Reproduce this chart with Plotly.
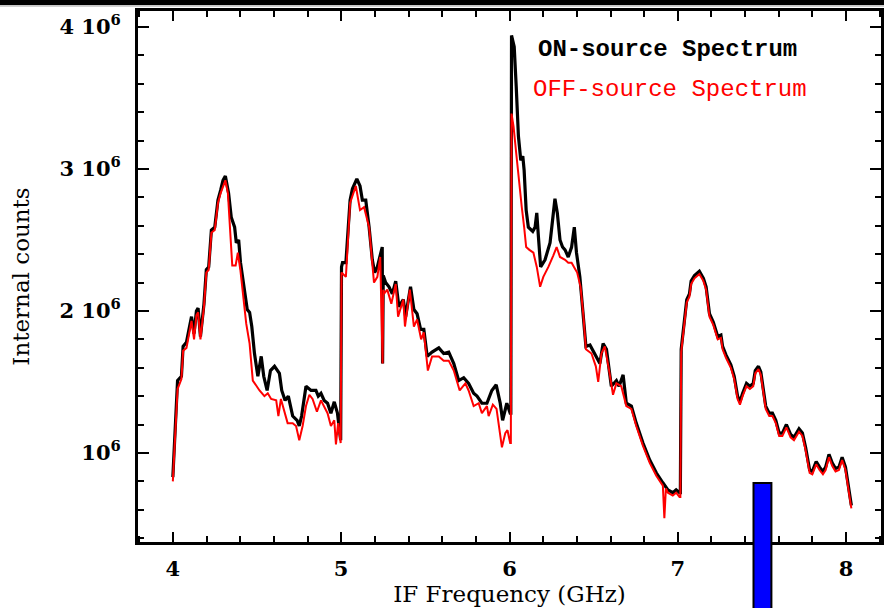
import numpy as np
import plotly.graph_objects as go

# IF spectra, frequency in GHz, counts in units of 10^6
on_freq = [
    4.000, 4.028, 4.051, 4.061, 4.081, 4.111, 4.126, 4.140, 4.150, 4.164, 4.185, 4.199, 4.213, 4.229,
    4.249, 4.268, 4.284, 4.298, 4.312, 4.331, 4.347, 4.367, 4.377, 4.391, 4.402, 4.426, 4.442, 4.456,
    4.469, 4.485, 4.505, 4.525, 4.540, 4.560, 4.580, 4.604, 4.633, 4.647, 4.667, 4.686, 4.712, 4.738,
    4.751, 4.765, 4.791, 4.821, 4.850, 4.864, 4.880, 4.899, 4.919, 4.939, 4.959, 4.978, 4.997,
    5.002, 5.008, 5.028, 5.037, 5.053, 5.067, 5.093, 5.112, 5.126, 5.146, 5.166, 5.185, 5.199, 5.215,
    5.244, 5.246, 5.250, 5.264, 5.284, 5.304, 5.324, 5.343, 5.369, 5.383, 5.412, 5.432, 5.451, 5.472,
    5.491, 5.511, 5.540, 5.580, 5.609, 5.639, 5.669, 5.698, 5.728, 5.757, 5.787, 5.807, 5.836, 5.866,
    5.895, 5.921, 5.945, 5.959, 5.984, 6.004, 6.008,
    6.012, 6.028, 6.040, 6.053, 6.067, 6.079, 6.087, 6.099, 6.112, 6.138, 6.152, 6.162, 6.172, 6.185,
    6.211, 6.241, 6.256, 6.270, 6.284, 6.300, 6.315, 6.330, 6.349, 6.369, 6.385, 6.398, 6.418, 6.438,
    6.454, 6.478, 6.507, 6.537, 6.556, 6.576, 6.605, 6.635, 6.651, 6.675, 6.694, 6.724, 6.753, 6.793,
    6.833, 6.872, 6.911, 6.941, 6.970, 6.990, 7.010, 7.015,
    7.020, 7.040, 7.053, 7.069, 7.079, 7.099, 7.128, 7.152, 7.168, 7.188, 7.211, 7.237, 7.256, 7.266,
    7.286, 7.315, 7.335, 7.355, 7.369, 7.385, 7.408, 7.428, 7.448, 7.460, 7.479, 7.493, 7.507, 7.522,
    7.543, 7.562, 7.582, 7.602, 7.621, 7.645, 7.670, 7.690, 7.720, 7.740, 7.759, 7.783, 7.799, 7.822,
    7.842, 7.862, 7.878, 7.898, 7.917, 7.937, 7.957, 7.976, 7.996, 8.016, 8.031,
]
on_counts = [
    0.83, 1.51, 1.54, 1.75, 1.78, 1.96, 1.84, 2.00, 2.02, 1.82, 2.05, 2.29, 2.31, 2.57,
    2.59, 2.78, 2.85, 2.92, 2.95, 2.83, 2.66, 2.59, 2.48, 2.50, 2.34, 2.12, 2.01, 1.99,
    1.89, 1.70, 1.54, 1.68, 1.54, 1.44, 1.58, 1.61, 1.56, 1.44, 1.37, 1.40, 1.26, 1.23,
    1.19, 1.26, 1.47, 1.44, 1.44, 1.40, 1.42, 1.37, 1.35, 1.28, 1.36, 1.28, 1.09,
    2.31, 2.34, 2.34, 2.48, 2.78, 2.86, 2.93, 2.88, 2.78, 2.78, 2.59, 2.36, 2.27, 2.31,
    2.45, 1.63, 2.25, 2.20, 2.17, 2.12, 2.21, 2.03, 2.08, 1.96, 2.17, 2.01, 1.98, 1.87,
    1.87, 1.68, 1.71, 1.74, 1.70, 1.71, 1.63, 1.51, 1.53, 1.49, 1.42, 1.40, 1.35, 1.35,
    1.44, 1.48, 1.35, 1.23, 1.35, 1.28, 1.28,
    3.94, 3.86, 3.58, 3.23, 3.06, 3.09, 2.99, 2.71, 2.59, 2.56, 2.59, 2.69, 2.52, 2.31,
    2.36, 2.48, 2.64, 2.79, 2.69, 2.50, 2.45, 2.43, 2.38, 2.45, 2.59, 2.41, 2.24, 1.98,
    1.75, 1.76, 1.70, 1.63, 1.77, 1.73, 1.47, 1.51, 1.47, 1.55, 1.35, 1.33, 1.21, 1.07,
    0.95, 0.86, 0.79, 0.74, 0.72, 0.74, 0.72, 0.72,
    1.73, 1.96, 2.08, 2.12, 2.21, 2.25, 2.28, 2.23, 2.17, 1.98, 1.92, 1.82, 1.83, 1.75,
    1.69, 1.62, 1.54, 1.40, 1.36, 1.42, 1.49, 1.47, 1.49, 1.58, 1.61, 1.57, 1.44, 1.33,
    1.28, 1.28, 1.23, 1.14, 1.14, 1.20, 1.13, 1.11, 1.17, 1.14, 1.04, 0.88, 0.87, 0.94,
    0.90, 0.87, 0.90, 0.99, 0.93, 0.89, 0.90, 0.97, 0.90, 0.74, 0.63,
]

off_freq = [
    4.000, 4.028, 4.051, 4.061, 4.081, 4.111, 4.126, 4.140, 4.150, 4.164, 4.185, 4.199, 4.213, 4.229,
    4.249, 4.268, 4.284, 4.298, 4.312, 4.327, 4.347, 4.353, 4.373, 4.386, 4.401, 4.416, 4.436, 4.456,
    4.475, 4.515, 4.544, 4.564, 4.584, 4.614, 4.627, 4.642, 4.663, 4.682, 4.712, 4.732, 4.751, 4.771,
    4.791, 4.811, 4.830, 4.856, 4.880, 4.899, 4.919, 4.939, 4.959, 4.969, 4.982, 4.997,
    5.002, 5.028, 5.037, 5.053, 5.087, 5.112, 5.136, 5.166, 5.195, 5.215, 5.232, 5.246, 5.250, 5.254,
    5.274, 5.298, 5.324, 5.338, 5.369, 5.379, 5.408, 5.432, 5.451, 5.475, 5.491, 5.515, 5.540, 5.580,
    5.609, 5.639, 5.669, 5.704, 5.738, 5.757, 5.787, 5.817, 5.836, 5.866, 5.876, 5.901, 5.923, 5.955,
    5.975, 5.988, 6.004, 6.008,
    6.012, 6.024, 6.040, 6.053, 6.073, 6.087, 6.099, 6.118, 6.142, 6.162, 6.182, 6.201, 6.231, 6.260,
    6.280, 6.300, 6.330, 6.349, 6.369, 6.383, 6.402, 6.422, 6.438, 6.454, 6.487, 6.513, 6.527, 6.546,
    6.566, 6.592, 6.615, 6.635, 6.664, 6.694, 6.724, 6.753, 6.793, 6.833, 6.872, 6.911, 6.920, 6.929,
    6.941, 6.970, 6.990, 7.010, 7.015,
    7.020, 7.040, 7.053, 7.069, 7.079, 7.099, 7.128, 7.152, 7.168, 7.188, 7.211, 7.237, 7.256, 7.266,
    7.286, 7.315, 7.335, 7.355, 7.369, 7.385, 7.408, 7.428, 7.448, 7.460, 7.479, 7.493, 7.507, 7.522,
    7.543, 7.562, 7.582, 7.602, 7.621, 7.645, 7.670, 7.690, 7.720, 7.740, 7.759, 7.783, 7.799, 7.822,
    7.842, 7.862, 7.878, 7.898, 7.917, 7.937, 7.957, 7.976, 7.996, 8.016, 8.031,
]
off_counts = [
    0.80, 1.45, 1.52, 1.72, 1.74, 1.93, 1.80, 1.97, 1.99, 1.80, 2.03, 2.27, 2.29, 2.55,
    2.57, 2.76, 2.83, 2.88, 2.92, 2.83, 2.43, 2.32, 2.32, 2.41, 2.29, 2.12, 1.91, 1.77,
    1.51, 1.44, 1.40, 1.42, 1.38, 1.37, 1.26, 1.38, 1.28, 1.21, 1.21, 1.19, 1.09, 1.19,
    1.33, 1.41, 1.38, 1.29, 1.37, 1.33, 1.28, 1.19, 1.23, 1.06, 1.21, 1.07,
    2.27, 2.24, 2.40, 2.76, 2.88, 2.71, 2.73, 2.59, 2.20, 2.24, 2.38, 1.63, 2.15, 2.12,
    2.15, 2.05, 2.19, 1.96, 2.08, 1.89, 2.15, 1.89, 1.94, 1.80, 1.85, 1.58, 1.68, 1.68,
    1.65, 1.65, 1.58, 1.44, 1.49, 1.44, 1.33, 1.35, 1.28, 1.33, 1.26, 1.34, 1.31, 1.04,
    1.14, 1.16, 1.07, 1.07,
    3.39, 3.30, 3.11, 2.95, 2.73, 2.59, 2.45, 2.43, 2.41, 2.31, 2.17, 2.24, 2.31, 2.39,
    2.45, 2.38, 2.36, 2.34, 2.34, 2.31, 2.27, 2.17, 1.98, 1.73, 1.70, 1.61, 1.50, 1.70,
    1.75, 1.58, 1.41, 1.49, 1.47, 1.33, 1.31, 1.19, 1.05, 0.93, 0.84, 0.77, 0.54, 0.75,
    0.72, 0.70, 0.72, 0.69, 0.69,
    1.71, 1.94, 2.06, 2.10, 2.19, 2.23, 2.26, 2.21, 2.15, 1.96, 1.90, 1.80, 1.81, 1.73,
    1.67, 1.60, 1.52, 1.38, 1.34, 1.40, 1.47, 1.45, 1.47, 1.56, 1.59, 1.55, 1.42, 1.31,
    1.26, 1.26, 1.21, 1.12, 1.12, 1.18, 1.11, 1.09, 1.15, 1.12, 1.02, 0.86, 0.85, 0.92,
    0.88, 0.85, 0.88, 0.97, 0.91, 0.87, 0.88, 0.95, 0.88, 0.72, 0.61,
]

y_tick_vals = [1, 2, 3, 4]
y_tick_text = ["10<sup>6</sup>", "2 10<sup>6</sup>", "3 10<sup>6</sup>", "4 10<sup>6</sup>"]
x_tick_vals = [4, 5, 6, 7, 8]
x_tick_text = ["4", "5", "6", "7", "8"]

SCALE = 1e6
on_y = np.array(on_counts) * SCALE
off_y = np.array(off_counts) * SCALE

fig = go.Figure()
fig.add_trace(go.Scatter(x=on_freq, y=on_y, mode="lines",
                         line=dict(color="black", width=3.2), name="ON-source Spectrum"))
fig.add_trace(go.Scatter(x=off_freq, y=off_y, mode="lines",
                         line=dict(color="#ff0000", width=2), name="OFF-source Spectrum"))

tick_font = dict(family="DejaVu Serif", size=21, color="black", weight="bold")
title_font = dict(family="DejaVu Serif", size=23, color="black")

fig.update_layout(
    width=884, height=608,
    margin=dict(l=138, r=0, t=11, b=66),
    paper_bgcolor="white", plot_bgcolor="white",
    showlegend=False,
    xaxis=dict(
        range=[3.793, 8.207], tickvals=x_tick_vals, ticktext=x_tick_text,
        ticks="inside", ticklen=10, tickwidth=2, tickcolor="black",
        minor=dict(dtick=0.2, tick0=4, ticks="inside", ticklen=6, tickwidth=2, tickcolor="black"),
        showline=True, linecolor="black", linewidth=3, mirror="ticks",
        showgrid=False, zeroline=False, tickfont=tick_font, ticklabelstandoff=6,
        title=dict(text="IF Frequency (GHz)", font=title_font, standoff=4),
    ),
    yaxis=dict(
        range=[0.373 * SCALE, 4.112 * SCALE], tickvals=[v * SCALE for v in y_tick_vals],
        ticktext=y_tick_text,
        ticks="inside", ticklen=11, tickwidth=2, tickcolor="black",
        minor=dict(dtick=0.2 * SCALE, tick0=0, ticks="inside", ticklen=6, tickwidth=2, tickcolor="black"),
        showline=True, linecolor="black", linewidth=3, mirror="ticks",
        showgrid=False, zeroline=False, tickfont=tick_font, ticklabelstandoff=10,
        title=dict(text="Internal counts", font=title_font, standoff=24),
    ),
    annotations=[
        dict(text="<b>ON-source Spectrum</b>", xref="paper", yref="paper", x=0.536, y=0.928,
             xanchor="left", yanchor="middle", showarrow=False,
             font=dict(family="Liberation Mono", size=24, color="black")),
        dict(text="OFF-source Spectrum", xref="paper", yref="paper", x=0.5295, y=0.853,
             xanchor="left", yanchor="middle", showarrow=False,
             font=dict(family="Liberation Mono", size=24, color="#ff0000")),
    ],
    shapes=[
        # band along the top edge of the page
        dict(type="rect", xref="paper", yref="paper", x0=-0.2, x1=1.05, y0=1.0115, y1=1.05,
             fillcolor="black", line=dict(width=0), layer="above"),
        dict(type="line", xref="paper", yref="paper", x0=-0.2, x1=1.05, y0=1.0095, y1=1.0095,
             line=dict(color="#999999", width=1), layer="above"),
        # blue marker bar crossing the frequency axis
        dict(type="rect", xref="paper", yref="paper", x0=0.8284, x1=0.8525, y0=-0.2, y1=0.111,
             fillcolor="#0000ff", line=dict(color="black", width=2), layer="above"),
    ],
)

fig.write_html("out.html")
